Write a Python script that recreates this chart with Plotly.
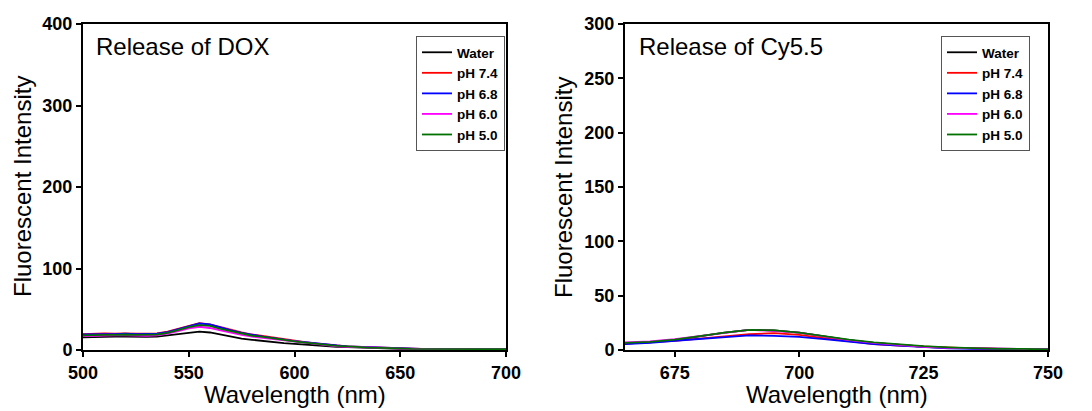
import plotly.graph_objects as go

# ---------------- data: DOX release (left) ----------------
dox_wl = list(range(500, 701, 5))
dox_water = [15.5, 16, 16, 16.5, 16.5, 16, 16, 16.5, 18, 20, 21.5, 22.5, 21.5, 19, 16, 14, 12.5, 11, 9.5, 8.5,
             7.5, 6.5, 5.5, 4.5, 4, 3.5, 3, 2.5, 2.5, 2, 1.5, 1.5, 1.5, 1, 1, 1, 1, 1, 1, 1, 1]
dox_ph74 = [19.5, 20, 20.5, 20, 20.5, 20, 20, 20.5, 22.5, 26, 30, 33, 31.5, 28, 24.5, 21.5, 19, 17, 15, 13,
            11.5, 9.5, 8, 6.5, 5.5, 4.5, 4, 3.5, 3, 2.5, 2, 2, 1.5, 1.5, 1, 1, 1, 1, 1, 1, 1]
dox_ph68 = [19, 19.5, 19.5, 19.5, 20, 19.5, 19.5, 20, 22, 25.5, 29.5, 32.5, 31.5, 27.5, 24, 21, 18.5, 16.5, 14.5, 12.5,
            11, 9.5, 8, 6.5, 5.5, 4.5, 4, 3.5, 3, 2.5, 2, 2, 1.5, 1.5, 1, 1, 1, 1, 1, 1, 1]
dox_ph60 = [17, 17.5, 17.5, 18, 18, 17.5, 17.5, 18, 20, 23, 26.5, 28.5, 27, 24, 21, 18.5, 16.5, 15, 13, 11.5,
            10, 8.5, 7, 5.5, 4.5, 4, 3.5, 3, 2.5, 2, 2, 1.5, 1.5, 1, 1, 1, 1, 1, 1, 1, 1]
dox_ph50 = [18, 18.5, 18.5, 18.5, 19, 18.5, 18.5, 19, 21, 24.5, 28, 30.5, 29.5, 26, 23, 20, 17.5, 16, 14, 12,
            10.5, 9, 7.5, 6, 5, 4.5, 3.5, 3, 2.5, 2.5, 2, 1.5, 1.5, 1.5, 1, 1, 1, 1, 1, 1, 1]

# ---------------- data: Cy5.5 release (right) ----------------
cy_wl = list(range(665, 751, 5))
cy_water = [6, 7, 9, 12.5, 16, 18.5, 18, 16, 12.5, 9, 6.5, 4.5, 3, 2, 1.5, 1, 1, 0.5]
cy_ph74 = [6, 7, 8.5, 10.5, 12.5, 14.5, 15.5, 14, 11, 8, 5.5, 4, 3, 2, 1.5, 1, 1, 0.5]
cy_ph68 = [5.5, 6.5, 8.5, 10, 12, 13.5, 13, 12, 10, 7.5, 5.5, 4, 2.5, 1.5, 1, 1, 1, 0.5]
cy_ph60 = [7, 8, 10, 13, 16, 18.5, 17.5, 16, 12.5, 9, 6.5, 4.5, 3, 2, 1.5, 1, 1, 0.5]
cy_ph50 = [6.5, 7.5, 9.5, 13, 16, 18.5, 18, 16, 12.5, 9.5, 7, 5, 3.5, 2.5, 1.5, 1, 1, 0.5]

names = ["Water", "pH 7.4", "pH 6.8", "pH 6.0", "pH 5.0"]
colors = ["#000000", "#ff0000", "#0000ff", "#ff00ff", "#007000"]

dox_x_ticks = [500, 550, 600, 650, 700]
dox_y_ticks = [0, 100, 200, 300, 400]
cy_x_ticks = [675, 700, 725, 750]
cy_y_ticks = [0, 50, 100, 150, 200, 250, 300]

W, H = 1092, 411
FONT = "Liberation Sans, Arial, sans-serif"

fig = go.Figure()

left_series = [dox_water, dox_ph74, dox_ph68, dox_ph60, dox_ph50]
right_series = [cy_water, cy_ph74, cy_ph68, cy_ph60, cy_ph50]

for n, c, ys in zip(names, colors, left_series):
    fig.add_trace(go.Scatter(x=dox_wl, y=ys, mode="lines", name=n,
                             line=dict(color=c, width=1.8),
                             xaxis="x", yaxis="y", legend="legend"))
for n, c, ys in zip(names, colors, right_series):
    fig.add_trace(go.Scatter(x=cy_wl, y=ys, mode="lines", name=n,
                             line=dict(color=c, width=1.8),
                             xaxis="x2", yaxis="y2", legend="legend2"))

def px_x(p):
    return p / W

def px_y(p):
    return (H - p) / H

axis_common = dict(showgrid=False, zeroline=False, showline=True, linecolor="black",
                   linewidth=2, mirror=True, ticks="outside", ticklen=5, tickwidth=2,
                   tickcolor="black", automargin=False,
                   tickfont=dict(family=FONT, size=18, color="black", weight="bold"))

legend_common = dict(xanchor="left", yanchor="top",
                     bgcolor="white", bordercolor="#555555", borderwidth=1,
                     font=dict(family=FONT, size=13.5, color="black", weight="bold"),
                     tracegroupgap=0, itemwidth=30)

ydom = [px_y(350), px_y(24)]
fig.update_layout(
    width=W, height=H,
    margin=dict(l=0, r=0, t=0, b=0, autoexpand=False),
    paper_bgcolor="white", plot_bgcolor="white",
    xaxis=dict(domain=[px_x(83), px_x(506)], range=[500, 700], tickvals=dox_x_ticks,
               anchor="y", **axis_common),
    yaxis=dict(domain=ydom, range=[0, 400], tickvals=dox_y_ticks, anchor="x", **axis_common),
    xaxis2=dict(domain=[px_x(625), px_x(1048)], range=[665, 750], tickvals=cy_x_ticks,
                anchor="y2", **axis_common),
    yaxis2=dict(domain=ydom, range=[0, 300], tickvals=cy_y_ticks, anchor="x2", **axis_common),
    legend=dict(x=px_x(416), y=px_y(36), **legend_common),
    legend2=dict(x=px_x(941), y=px_y(36), **legend_common),
    showlegend=True,
)

title_font = dict(family=FONT, size=24, color="black")
annos = [
    dict(text="Release of DOX", x=px_x(94), y=px_y(47), xanchor="left", yanchor="middle"),
    dict(text="Release of Cy5.5", x=px_x(637), y=px_y(47), xanchor="left", yanchor="middle"),
    dict(text="Wavelength (nm)", x=px_x(294.5), y=px_y(394), xanchor="center", yanchor="middle"),
    dict(text="Wavelength (nm)", x=px_x(836.5), y=px_y(394), xanchor="center", yanchor="middle"),
    dict(text="Fluorescent Intensity", x=px_x(22), y=px_y(187), xanchor="center", yanchor="middle",
         textangle=-90),
    dict(text="Fluorescent Intensity", x=px_x(563), y=px_y(187), xanchor="center", yanchor="middle",
         textangle=-90),
]
for a in annos:
    fig.add_annotation(xref="paper", yref="paper", showarrow=False, font=title_font, **a)

# remove the browser's default 8px page margin so the figure sits at the window origin
fig.write_html("out.html", config={"displayModeBar": False},
               post_script="document.body.style.margin='0px';")
